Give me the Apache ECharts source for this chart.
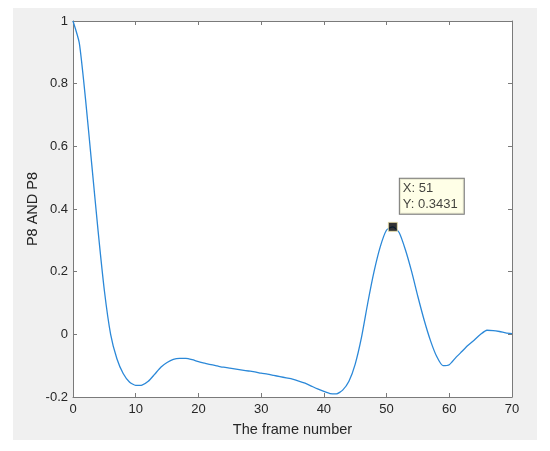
<!DOCTYPE html>
<html>
<head>
<meta charset="utf-8">
<script src="https://cdn.jsdelivr.net/npm/echarts@6/dist/echarts.min.js"></script>
<style>
  html, body { margin: 0; padding: 0; background: #fff; }
  #main { width: 550px; height: 451px; }
</style>
</head>
<body>
<div id="main"></div>
<script>
// frame number 0..70
var frames = [];
for (var i = 0; i <= 70; i++) frames.push(i);

// P8 AND P8
var values = [
  1.0, 0.93, 0.75, 0.54, 0.33, 0.14, 0.0, -0.078, -0.125, -0.152,
  -0.163, -0.162, -0.15, -0.128, -0.105, -0.09, -0.08, -0.077, -0.077, -0.081,
  -0.087, -0.092, -0.097, -0.101, -0.105, -0.108, -0.111, -0.114, -0.117, -0.12,
  -0.124, -0.127, -0.131, -0.135, -0.139, -0.143, -0.149, -0.156, -0.165, -0.174,
  -0.182, -0.189, -0.19, -0.178, -0.15, -0.095, -0.01, 0.10, 0.20, 0.28,
  0.333, 0.3431, 0.325, 0.27, 0.20, 0.12, 0.045, -0.02, -0.071, -0.1,
  -0.097, -0.075, -0.055, -0.035, -0.018, 0.0, 0.013, 0.012, 0.009, 0.005,
  0.002
];

// data tip
var tipX = 51;
var tipY = 0.3431;

var xTicks = [0, 70, 10];     // min, max, interval
var yTicks = [-0.2, 1, 0.2];

var axisGray = '#7a7a7a';
var textGray = '#262626';
var font = 'Liberation Sans';

function frameAxis(pos, labels){
  return {
    type: 'value', position: pos,
    min: xTicks[0], max: xTicks[1], interval: xTicks[2],
    axisLine: { show: true, onZero: false, lineStyle: { color: axisGray, width: 1 } },
    axisTick: { show: true, inside: true, length: 4, lineStyle: { color: axisGray } },
    axisLabel: { show: labels, color: textGray, fontSize: 13, fontFamily: font, margin: 6 },
    splitLine: { show: false }
  };
}
function valueAxis(pos, labels){
  return {
    type: 'value', position: pos,
    min: yTicks[0], max: yTicks[1], interval: yTicks[2],
    axisLine: { show: true, onZero: false, lineStyle: { color: axisGray, width: 1 } },
    axisTick: { show: true, inside: true, length: 4, lineStyle: { color: axisGray } },
    axisLabel: { show: labels, color: textGray, fontSize: 13, fontFamily: font, margin: 5 },
    splitLine: { show: false }
  };
}

function initLine(){
  var chart = echarts.init(document.getElementById('main'));
  var lineData = frames.map(function (f, k) { return [f, values[k]]; });

  var xBottom = frameAxis('bottom', true);
  xBottom.name = 'The frame number';
  xBottom.nameLocation = 'middle';
  xBottom.nameGap = 25;
  xBottom.nameMoveOverlap = false;
  xBottom.nameTextStyle = { color: textGray, fontSize: 14.5, fontFamily: font };

  var yLeft = valueAxis('left', true);
  yLeft.name = 'P8 AND P8';
  yLeft.nameLocation = 'middle';
  yLeft.nameGap = 33;
  yLeft.nameMoveOverlap = false;
  yLeft.nameTextStyle = { color: textGray, fontSize: 14.5, fontFamily: font };

  var option = {
    backgroundColor: '#ffffff',
    animation: false,
    graphic: [{
      type: 'rect', z: -10, silent: true,
      shape: { x: 13, y: 8, width: 524, height: 432 },
      style: { fill: '#f0f0f0' }
    }],
    grid: {
      left: 73, right: 38, top: 21, bottom: 54,
      show: true, backgroundColor: '#ffffff', borderWidth: 0
    },
    xAxis: [xBottom, frameAxis('top', false)],
    yAxis: [yLeft, valueAxis('right', false)],
    series: [{
      type: 'line',
      data: lineData,
      showSymbol: false,
      smooth: 0.2,
      lineStyle: { color: '#2b88d8', width: 1.3 },
      z: 2
    }, {
      type: 'scatter',
      data: [[tipX, tipY]],
      symbol: 'rect',
      symbolSize: 9,
      itemStyle: { color: '#000000', borderColor: '#efe3a8', borderWidth: 1 },
      label: {
        show: true,
        position: [12, -43],
        formatter: 'X: ' + tipX + '\nY: ' + tipY,
        color: '#111111',
        fontSize: 13,
        fontFamily: font,
        lineHeight: 16,
        backgroundColor: '#ffffe1',
        borderColor: '#555555',
        borderWidth: 1,
        padding: [2, 6, 1, 3]
      },
      z: 5
    }]
  };
  chart.setOption(option);
}

initLine();
</script>
</body>
</html>
